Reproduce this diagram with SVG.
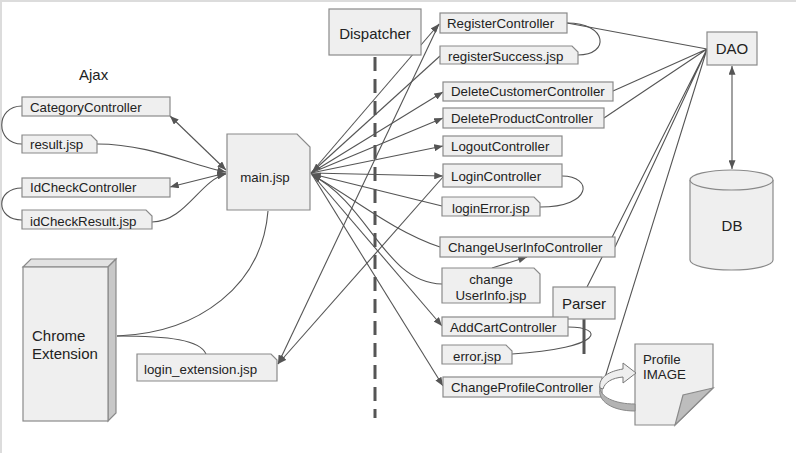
<svg xmlns="http://www.w3.org/2000/svg" width="796" height="453" viewBox="0 0 796 453">
<style>
.box{fill:#efefef;stroke:#8a8a8a;stroke-width:1.2}
.t{font-family:"Liberation Sans",Arial,sans-serif;font-size:13.3px;fill:#222}
.tl{font-family:"Liberation Sans",Arial,sans-serif;font-size:15px;fill:#222}
.c{fill:none;stroke:#555;stroke-width:1.1}
</style>
<defs>
<marker id="ah" viewBox="0 0 10 8" refX="10" refY="4" markerWidth="9" markerHeight="7" markerUnits="userSpaceOnUse" orient="auto-start-reverse"><path d="M0,0 L10,4 L0,8 z" fill="#555"/></marker>
</defs>
<rect width="796" height="453" fill="#fff"/>
<path d="M1,453 V1 H796" fill="none" stroke="#dcdcdc" stroke-width="2"/>

<text class="tl" x="79" y="80">Ajax</text>

<g id="connectors">
<!-- left side -->
<path class="c" d="M170,116 L226,170" marker-start="url(#ah)" marker-end="url(#ah)"/>
<path class="c" d="M97,144 C150,144 190,165 226,172" marker-end="url(#ah)"/>
<path class="c" d="M170,187 L226,173" marker-start="url(#ah)" marker-end="url(#ah)"/>
<path class="c" d="M152,222 C185,222 200,180 226,174" marker-end="url(#ah)"/>
<path class="c" d="M22,106 C-5,106 -5,144 22,144"/>
<path class="c" d="M22,188 C-5,188 -5,220 22,220"/>
<path class="c" d="M117,336 C200,333 262,285 268,211"/>
<path class="c" d="M117,336 C170,336 200,340 206,354"/>
<!-- fan from main.jsp -->
<path class="c" d="M311,173 L439,24" marker-end="url(#ah)"/>
<path class="c" d="M440,56 L312,172" marker-end="url(#ah)"/>
<path class="c" d="M311,173 L443,92" marker-end="url(#ah)"/>
<path class="c" d="M311,173 L443,118" marker-end="url(#ah)"/>
<path class="c" d="M311,173 L443,146" marker-end="url(#ah)"/>
<path class="c" d="M311,173 L443,176" marker-end="url(#ah)"/>
<path class="c" d="M442,206 L312,174" marker-end="url(#ah)"/>
<path class="c" d="M440,247 C390,230 350,195 312,175" marker-end="url(#ah)"/>
<path class="c" d="M442,284 C385,283 370,205 312,175" marker-end="url(#ah)"/>
<path class="c" d="M311,173 L442,326" marker-end="url(#ah)"/>
<path class="c" d="M311,173 L443,386" marker-end="url(#ah)"/>
<!-- to login_extension -->
<path class="c" d="M439,24 L278,364" marker-end="url(#ah)"/>
<path class="c" d="M443,177 L278,364" marker-end="url(#ah)"/>
<!-- loops right -->
<path class="c" d="M567,23 C608,23 610,55 578,55"/>
<path class="c" d="M562,176 C593,176 593,207 540,207"/>
<path class="c" d="M568,327 C605,327 605,348 512,354"/>
<path class="c" d="M492,268 L527,257" marker-end="url(#ah)"/>
<!-- DAO -->
<path class="c" d="M707,49 L567,23 M707,49 L613,91 M707,49 L604,118 M707,49 L615,247 M707,49 L587,287 M707,49 L603,384"/>
<path class="c" d="M732,66 L732,169" marker-start="url(#ah)" marker-end="url(#ah)"/>
<!-- lifelines -->
<path d="M375,57 V418" stroke="#555" stroke-width="3" stroke-dasharray="14 8" fill="none"/>
<path d="M584,319 V354" stroke="#555" stroke-width="3" fill="none"/>
</g>

<g id="CategoryController"><rect class="box" x="22" y="97" width="148" height="19"/><text class="t" x="30" y="111.5">CategoryController</text></g>
<g id="result"><path class="box" d="M22,135 H91 L97,141 V153 H22 Z"/><text class="t" x="30" y="149">result.jsp</text></g>
<g id="IdCheckController"><rect class="box" x="22" y="178" width="148" height="19"/><text class="t" x="30" y="192">IdCheckController</text></g>
<g id="idCheckResult"><path class="box" d="M22,210 H146 L152,216 V229 H22 Z"/><text class="t" x="30" y="225.5">idCheckResult.jsp</text></g>

<g id="main"><path class="box" d="M227,134 H297 L310,147 V210 H227 Z"/><text class="t" x="265" y="182" text-anchor="middle">main.jsp</text></g>

<g id="ChromeExtension">
<polygon points="23,267 31,259 116,259 108,267" fill="#e2e2e2" stroke="#8a8a8a" stroke-width="1.2"/>
<polygon points="108,267 116,259 116,413 108,421" fill="#c8c8c8" stroke="#8a8a8a" stroke-width="1.2"/>
<rect class="box" x="23" y="267" width="85" height="154"/>
<text class="tl" x="32" y="341">Chrome</text><text class="tl" x="32" y="359">Extension</text>
</g>
<g id="login_extension"><path class="box" d="M137,354 H271 L277,360 V381 H137 Z"/><text class="t" x="144" y="374">login_extension.jsp</text></g>

<g id="Dispatcher"><rect class="box" x="329" y="9" width="92" height="46"/><text class="tl" x="375" y="39" text-anchor="middle">Dispatcher</text></g>

<g id="RegisterController"><rect class="box" x="440" y="13" width="127" height="20"/><text class="t" x="447" y="27.5">RegisterController</text></g>
<g id="registerSuccess"><path class="box" d="M440,46 H572 L578,52 V64 H440 Z"/><text class="t" x="448" y="61">registerSuccess.jsp</text></g>
<g id="DeleteCustomerController"><rect class="box" x="443" y="82" width="170" height="19"/><text class="t" x="451" y="96">DeleteCustomerController</text></g>
<g id="DeleteProductController"><rect class="box" x="443" y="108" width="161" height="20"/><text class="t" x="451" y="122.5">DeleteProductController</text></g>
<g id="LogoutController"><rect class="box" x="443" y="136" width="119" height="20"/><text class="t" x="451" y="150.5">LogoutController</text></g>
<g id="LoginController"><rect class="box" x="443" y="164" width="119" height="23"/><text class="t" x="451" y="180.5">LoginController</text></g>
<g id="loginError"><path class="box" d="M442,197 H534 L540,203 V216 H442 Z"/><text class="t" x="452" y="212.5">loginError.jsp</text></g>
<g id="ChangeUserInfoController"><rect class="box" x="440" y="237" width="175" height="20"/><text class="t" x="448" y="251.5">ChangeUserInfoController</text></g>
<g id="changeUserInfo"><path class="box" d="M442,268 H534 L540,274 V303 H442 Z"/><text class="t" x="491" y="283.5" text-anchor="middle">change</text><text class="t" x="491" y="299.5" text-anchor="middle">UserInfo.jsp</text></g>
<g id="Parser"><rect class="box" x="553" y="287" width="62" height="32"/><text class="tl" x="584" y="309" text-anchor="middle">Parser</text></g>
<g id="AddCartController"><rect class="box" x="442" y="317" width="126" height="19"/><text class="t" x="450" y="331.5">AddCartController</text></g>
<g id="error"><path class="box" d="M442,345 H506 L512,351 V364 H442 Z"/><text class="t" x="453" y="360.5">error.jsp</text></g>
<g id="ChangeProfileController"><rect class="box" x="443" y="377" width="159" height="20"/><text class="t" x="451" y="391.5">ChangeProfileController</text></g>

<g id="DAO"><rect class="box" x="707" y="32" width="50" height="33"/><text class="tl" x="732" y="54" text-anchor="middle">DAO</text></g>
<g id="DB">
<path class="box" d="M690,180 V260 A41.5,10 0 0 0 773,260 V180"/>
<ellipse class="box" cx="731.5" cy="180" rx="41.5" ry="10"/>
<text class="tl" x="732" y="231" text-anchor="middle">DB</text>
</g>

<g id="ProfileImage">
<path class="box" d="M635,344 H713 V388 L675,425 H635 Z"/>
<path d="M713,388 L683,395 L675,425 Z" fill="#bdbdbd" stroke="#8a8a8a" stroke-width="1.2"/>
<text class="t" x="643" y="364">Profile</text><text class="t" x="643" y="379">IMAGE</text>
</g>
<g id="curvedArrow">
<path d="M600,386 C599,397 615,404 635,404 L635,411 C612,411 597,401 600,388 Z" fill="#b3b3b3" stroke="#888" stroke-width="1"/>
<path d="M600,388 C598,377 610,371 623,369 L623,363 L636,373 L623,383 L623,377 C612,378 605,382 603,389 Z" fill="#eeeeee" stroke="#777" stroke-width="1"/>
</g>
</svg>
